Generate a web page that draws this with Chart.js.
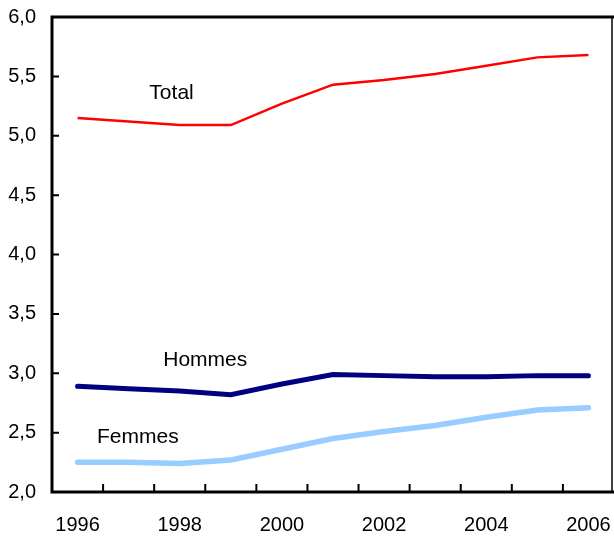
<!DOCTYPE html>
<html>
<head>
<meta charset="utf-8">
<script src="https://cdn.jsdelivr.net/npm/chart.js@4.4.0/dist/chart.umd.min.js"></script>
<style>
  html, body { margin: 0; padding: 0; background: #fff; }
  #wrap { width: 614px; height: 536px; }
</style>
</head>
<body>
<div id="wrap"><canvas id="chart" width="614" height="536"></canvas></div>
<script>
const years = ['1996', '1997', '1998', '1999', '2000', '2001', '2002', '2003', '2004', '2005', '2006'];
const total = [5.15, 5.12, 5.09, 5.09, 5.27, 5.43, 5.47, 5.52, 5.59, 5.66, 5.68];
const hommes = [2.89, 2.87, 2.85, 2.82, 2.91, 2.99, 2.98, 2.97, 2.97, 2.98, 2.98];
const femmes = [2.25, 2.25, 2.24, 2.27, 2.36, 2.45, 2.51, 2.56, 2.63, 2.69, 2.71];
const yTicks = [2.0, 2.5, 3.0, 3.5, 4.0, 4.5, 5.0, 5.5, 6.0];

const FONT = 'Liberation Sans, Arial, Helvetica, sans-serif';

// étiquettes des séries, placées en coordonnées des axes
const seriesLabels = [
    { text: 'Total', x: 1.84, y: 5.36 },
    { text: 'Hommes', x: 2.5, y: 3.11 },
    { text: 'Femmes', x: 1.18, y: 2.46 }
];

// cadre + petites graduations vers l'intérieur
const framePlugin = {
    id: 'frame',
    afterDraw(chart) {
        const c = chart.ctx, a = chart.chartArea;
        const xs = chart.scales.x, ys = chart.scales.y;
        c.save();
        c.strokeStyle = '#000';
        c.lineWidth = 3;
        c.beginPath();
        c.moveTo(a.left, a.bottom);
        c.lineTo(a.left, a.top);
        c.lineTo(a.right, a.top);
        c.moveTo(a.left - 1.5, a.bottom);
        c.lineTo(a.right, a.bottom);
        c.stroke();
        c.lineWidth = 1.5;
        c.beginPath();
        c.moveTo(a.right - 2, a.top);
        c.lineTo(a.right - 2, a.bottom);
        c.stroke();
        c.lineWidth = 2;
        c.beginPath();
        for (let i = 1; i < years.length; i++) {
            const px = xs.getPixelForValue(i - 0.5);
            c.moveTo(px, a.bottom);
            c.lineTo(px, a.bottom - 8);
        }
        yTicks.slice(1, -1).forEach(v => {
            const py = ys.getPixelForValue(v);
            c.moveTo(a.left, py);
            c.lineTo(a.left + 7, py);
        });
        c.stroke();

        c.fillStyle = '#000';
        c.font = '21px ' + FONT;
        c.textAlign = 'center';
        c.textBaseline = 'middle';
        seriesLabels.forEach(l => {
            c.fillText(l.text, xs.getPixelForValue(l.x), ys.getPixelForValue(l.y));
        });
        c.restore();
    }
};

function noPad(s) {
    s.paddingTop = 0;
    s.paddingBottom = 0;
    s.paddingLeft = 0;
    s.paddingRight = 0;
}

new Chart(document.getElementById('chart').getContext('2d'), {
    type: 'line',
    data: {
        labels: years,
        datasets: [
            { label: 'Total', data: total, borderColor: '#ff0000', borderWidth: 2.5, pointRadius: 0, tension: 0, fill: false },
            { label: 'Hommes', data: hommes, borderColor: '#000080', borderWidth: 5, pointRadius: 0, tension: 0, fill: false, borderCapStyle: 'round' },
            { label: 'Femmes', data: femmes, borderColor: '#99ccff', borderWidth: 5.5, pointRadius: 0, tension: 0, fill: false, borderCapStyle: 'round' }
        ]
    },
    options: {
        responsive: false,
        animation: false,
        layout: { padding: { top: 17, right: 0, left: 0, bottom: 0 } },
        plugins: { legend: { display: false }, tooltip: { enabled: false } },
        scales: {
            x: {
                type: 'category',
                offset: true,
                grid: { display: false, drawTicks: false },
                border: { display: false },
                ticks: {
                    autoSkip: false,
                    maxRotation: 0,
                    padding: 21,
                    color: '#000',
                    font: { family: FONT, size: 20 },
                    callback: (v, i) => (i % 2 === 0 ? years[i] : '')
                },
                afterFit: s => { s.height = 44; noPad(s); }
            },
            y: {
                min: 2,
                max: 6,
                afterBuildTicks: s => { s.ticks = yTicks.map(v => ({ value: v })); },
                grid: { display: false, drawTicks: false },
                border: { display: false },
                ticks: {
                    padding: 16,
                    color: '#000',
                    font: { family: FONT, size: 20 },
                    callback: v => v.toFixed(1).replace('.', ',')
                },
                afterFit: s => { s.width = 52; noPad(s); }
            }
        }
    },
    plugins: [framePlugin]
});
</script>
</body>
</html>
